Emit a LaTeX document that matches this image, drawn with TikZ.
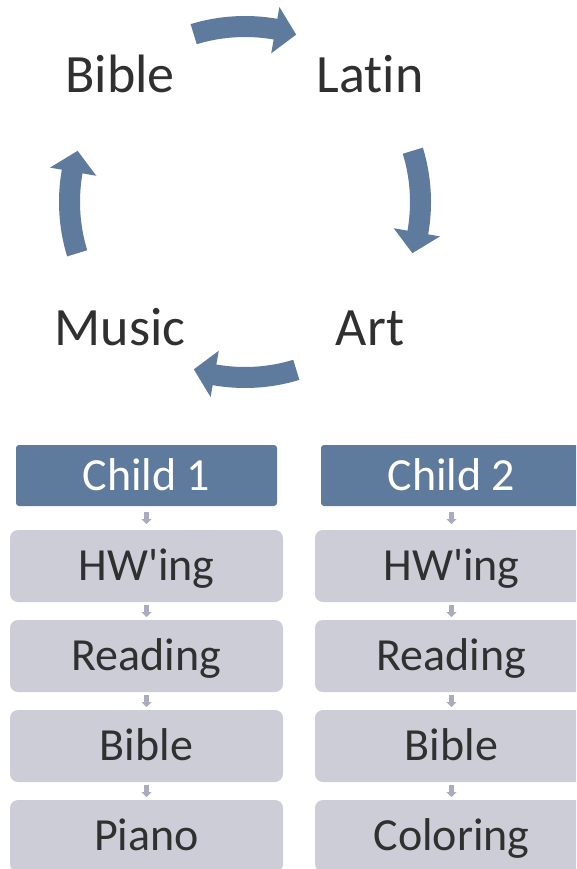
\documentclass[tikz,border=0pt]{standalone}
\usepackage{fontspec}
\setmainfont{Carlito}[Ligatures={NoCommon}]
\usetikzlibrary{arrows.meta}
\definecolor{blueA}{HTML}{5E7B9D}
\definecolor{grayB}{HTML}{CDCDD7}
\definecolor{txt}{HTML}{303030}
\definecolor{smallA}{HTML}{A8ACBE}
\newcommand\cyclearrowpath{(17:165pt) -- (17:186pt) arc[start angle=17,end angle=-10,radius=186pt] -- (-10:198pt) -- (-17:175pt) -- (-10:151pt) -- (-10:165pt) arc[start angle=-10,end angle=17,radius=165pt] -- cycle}
\begin{document}
\begin{tikzpicture}[x=1pt,y=1pt,
  cyc/.style={font=\fontsize{54}{54}\selectfont, text=txt, inner sep=0pt, anchor=base},
  header/.style={fill=blueA, rounded corners=3pt, minimum width=261pt, minimum height=61pt,
    text=white, font=\fontsize{46}{46}\selectfont, inner sep=0pt, outer sep=0pt,
    text height=29.5pt, text depth=0pt},
  item/.style={fill=grayB, rounded corners=8pt, minimum width=273pt, minimum height=72pt,
    text=txt, font=\fontsize{46}{46}\selectfont, inner sep=0pt, outer sep=0pt,
    text height=29.5pt, text depth=0pt},
  link/.style={draw=smallA, line width=5pt, -{Triangle[width=10pt,length=5pt]}},
  cycarrow/.style={fill=blueA}]
\useasboundingbox (0,0) rectangle (576,-869);
\clip (0,0) rectangle (576,-869);
% cycle labels
\node[cyc] (bible) at (120,-93) {Bible};
\node[cyc] (latin) at (370,-93) {Latin};
\node[cyc] (art) at (370,-345) {Art};
\node[cyc] (music) at (120,-345) {Music};
% curved block arrows
\begin{scope}[shift={(245,-202)}]
  \fill[cycarrow, rotate=90] \cyclearrowpath;
  \fill[cycarrow, rotate=0] \cyclearrowpath;
  \fill[cycarrow, rotate=-90] \cyclearrowpath;
  \fill[cycarrow, rotate=180] \cyclearrowpath;
\end{scope}
% column 1
\node[header] (h1) at (146.5,-475.5) {Child 1};
\node[item] (a1) at (146.5,-566) {HW\textquotesingle ing};
\node[item] (b1) at (146.5,-656) {Reading};
\node[item] (c1) at (146.5,-746) {Bible};
\node[item] (d1) at (146.5,-836) {Piano};
% column 2
\node[header] (h2) at (451.5,-475.5) {Child 2};
\node[item] (a2) at (451.5,-566) {HW\textquotesingle ing};
\node[item] (b2) at (451.5,-656) {Reading};
\node[item] (c2) at (451.5,-746) {Bible};
\node[item] (d2) at (451.5,-836) {Coloring};
% small connectors
\foreach \c in {1,2}{
  \draw[link, shorten <=6pt, shorten >=6pt] (h\c) -- (a\c);
  \draw[link, shorten <=3pt, shorten >=3pt] (a\c) -- (b\c);
  \draw[link, shorten <=3pt, shorten >=3pt] (b\c) -- (c\c);
  \draw[link, shorten <=3pt, shorten >=3pt] (c\c) -- (d\c);
}
\end{tikzpicture}
\end{document}
